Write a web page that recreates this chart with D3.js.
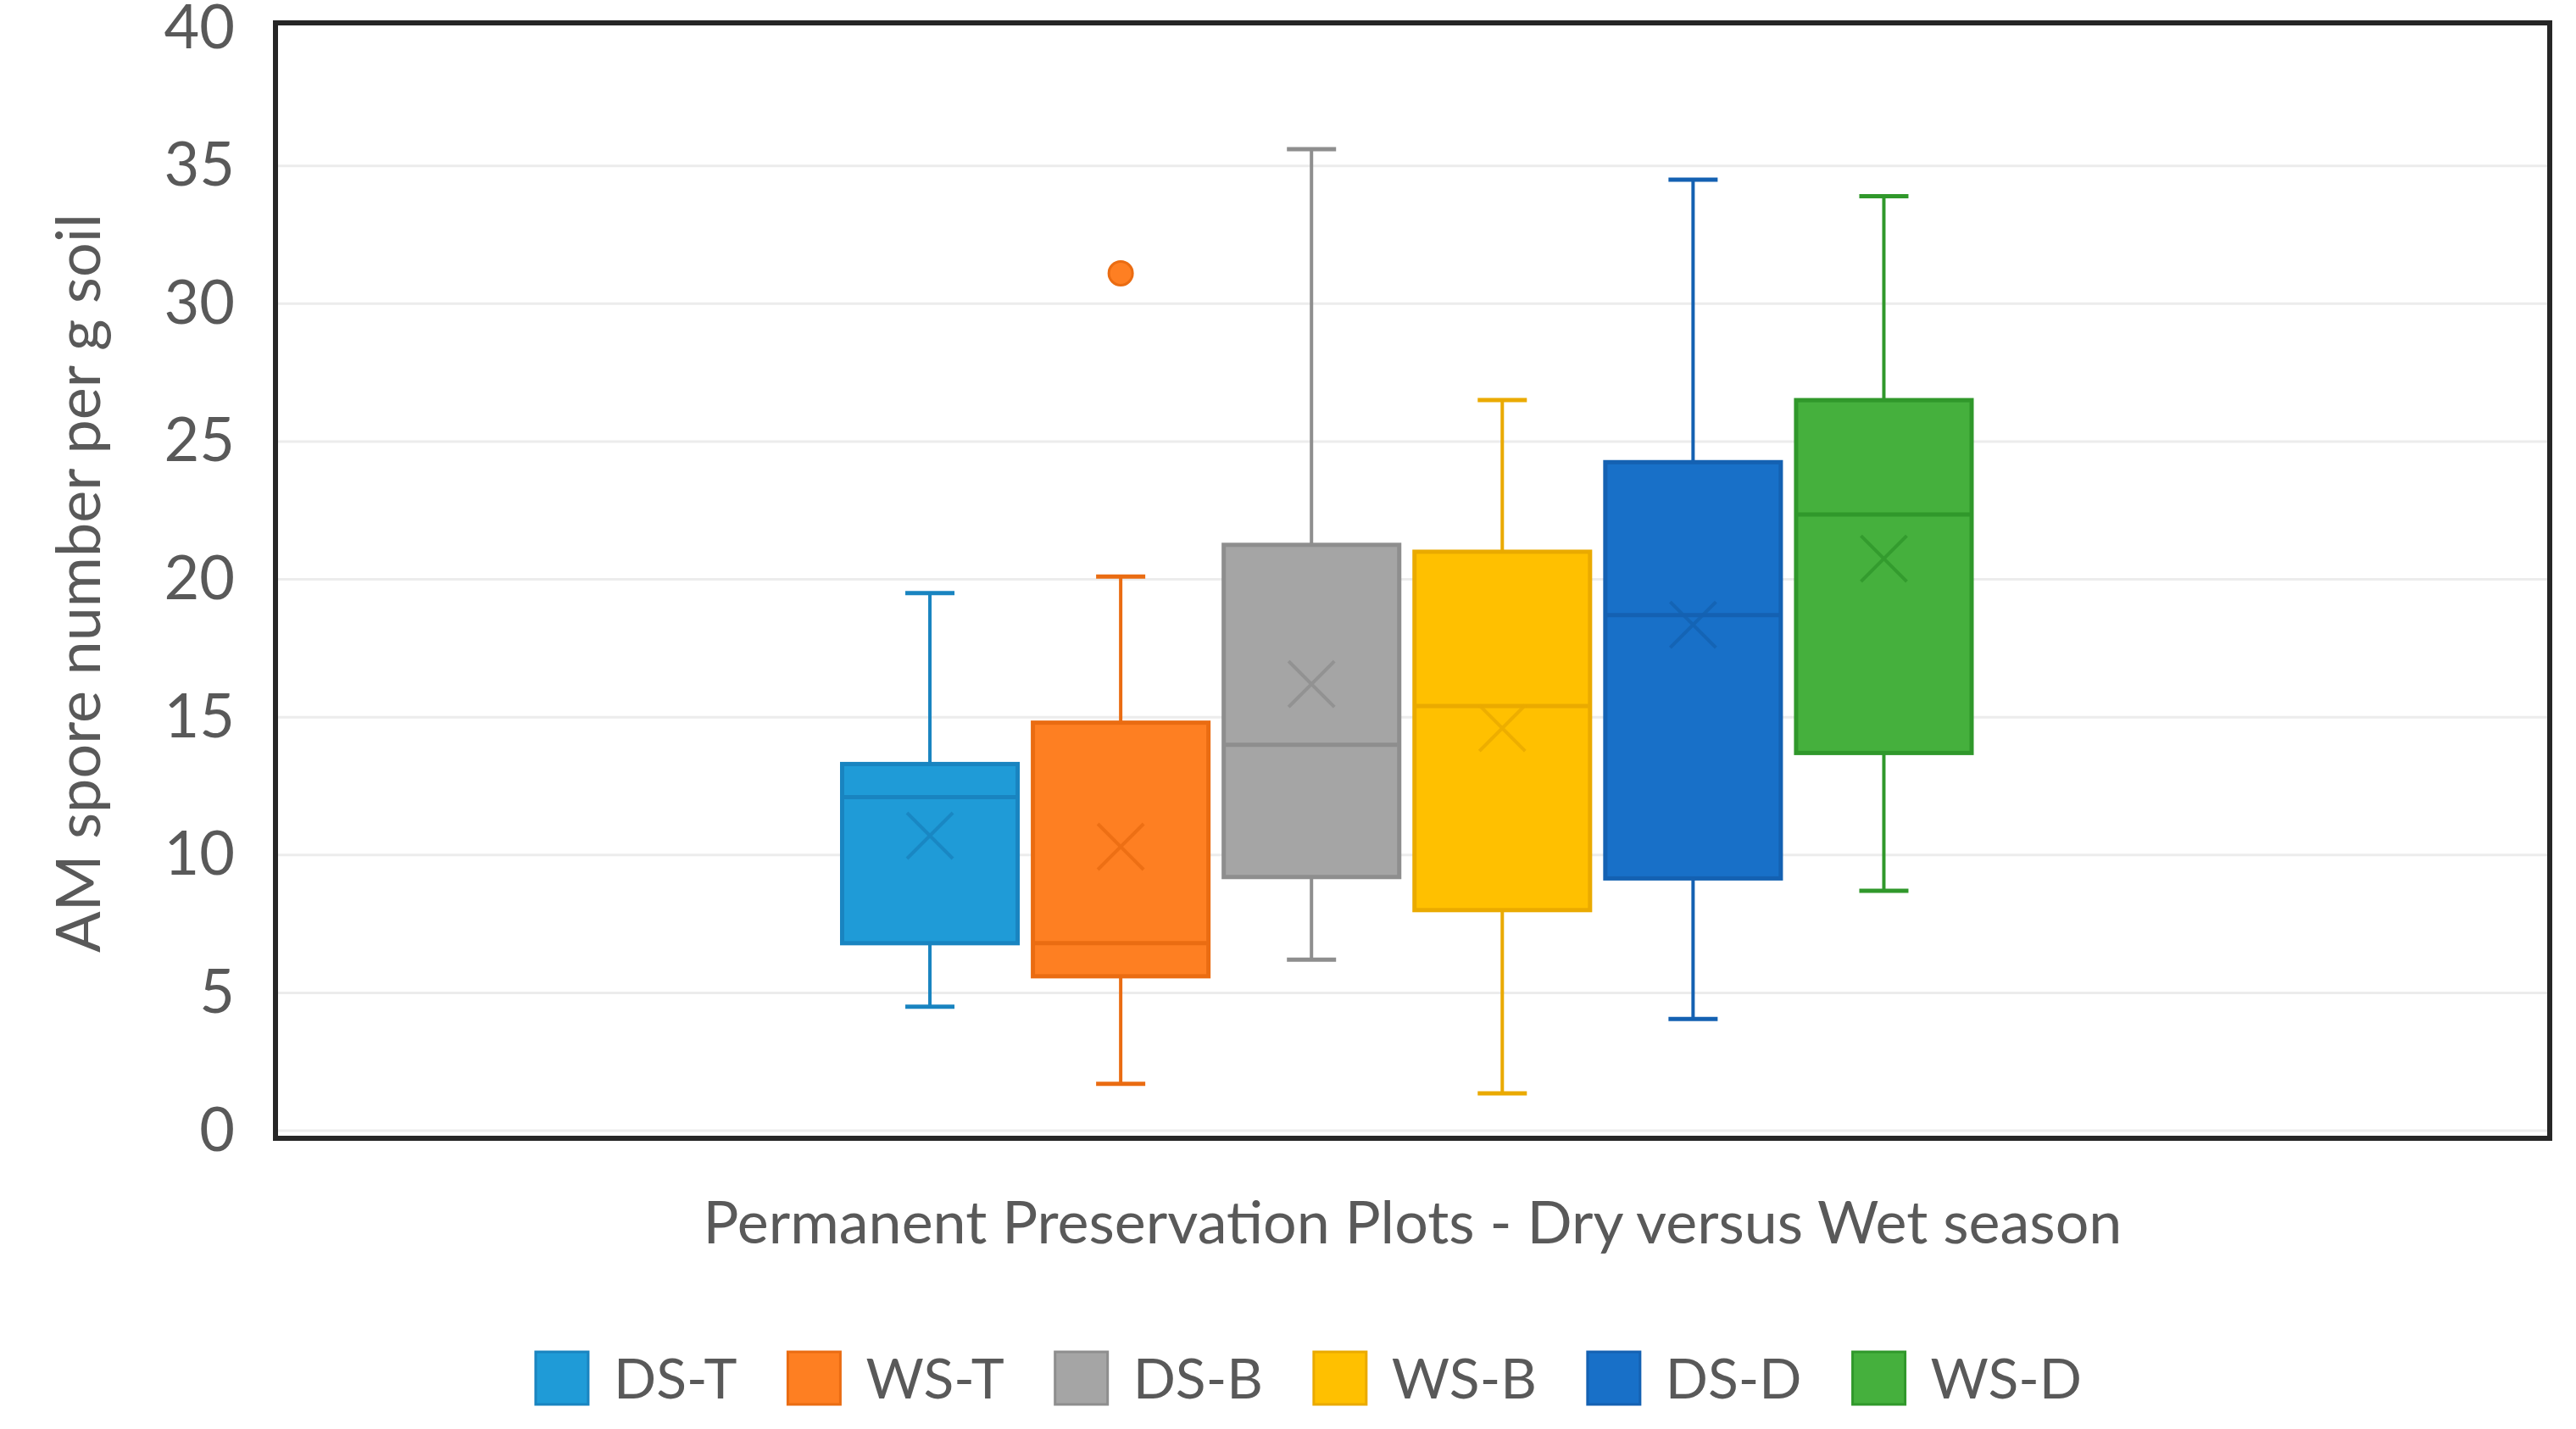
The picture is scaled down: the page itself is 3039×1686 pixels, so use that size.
<!DOCTYPE html>
<html>
<head>
<meta charset="utf-8">
<script src="https://cdn.jsdelivr.net/npm/d3@7"></script>
<style>
  html, body { margin: 0; padding: 0; background: #fff; }
  svg { display: block; font-family: Lato, "Open Sans", sans-serif; }
</style>
</head>
<body>
<div id="chart"></div>
<script>
// box plot values
var categories = ["DS-T", "WS-T", "DS-B", "WS-B", "DS-D", "WS-D"];
var whiskerLow  = [4.5, 1.7, 6.2, 1.35, 4.05, 8.7];
var q1          = [6.8, 5.6, 9.2, 8.0, 9.15, 13.7];
var median      = [12.1, 6.8, 14.0, 15.4, 18.7, 22.35];
var q3          = [13.3, 14.8, 21.25, 21.0, 24.25, 26.5];
var whiskerHigh = [19.5, 20.1, 35.6, 26.5, 34.5, 33.9];
var means       = [10.7, 10.3, 16.2, 14.6, 18.35, 20.75];
var outliers    = [[], [31.1], [], [], [], []];
var yTicks      = [0, 5, 10, 15, 20, 25, 30, 35, 40];

var fills   = ["#1f9bd7", "#fe7f22", "#a5a5a5", "#ffc000", "#1870c8", "#45b03d"];
var strokes = ["#1984c0", "#ea6c12", "#8e8e8e", "#eaaa00", "#1461b2", "#30982b"];

(function () {
    var width = 3039,
        height = 1686,
        plotLeft = 325,
        plotRight = 3008,
        plotTop = 33,
        plotBottom = 1334;

    var svg = d3.select("#chart").append("svg")
        .attr("width", width)
        .attr("height", height);

    var x = d3.scaleBand()
        .domain(categories)
        .range([plotLeft, plotRight])
        .paddingInner(0.08)
        .paddingOuter(3.0)
        .align(0.495);

    var y = d3.scaleLinear()
        .domain([0, 40])
        .range([plotBottom, plotTop]);

    // gridlines
    svg.append("g")
        .selectAll("line")
        .data(yTicks.slice(0, -1))
        .enter().append("line")
        .attr("x1", plotLeft)
        .attr("x2", plotRight)
        .attr("y1", function (d) { return y(d); })
        .attr("y2", function (d) { return y(d); })
        .attr("stroke", "#ececec")
        .attr("stroke-width", 3);

    // y axis labels
    var yAxis = svg.append("g")
        .attr("transform", "translate(" + plotLeft + ",0)")
        .call(d3.axisLeft(y).tickValues(yTicks).tickSize(0).tickPadding(48));
    yAxis.select(".domain").remove();
    yAxis.selectAll("text")
        .attr("font-family", "Lato, 'Open Sans', sans-serif")
        .attr("font-size", 72)
        .attr("fill", "#595959");

    var boxes = svg.append("g")
        .selectAll("g.box")
        .data(categories)
        .enter().append("g")
        .attr("class", "box");

    function cx(d) { return x(d) + x.bandwidth() / 2; }
    var capHalf = 29;

    // whiskers
    boxes.append("line")
        .attr("x1", cx).attr("x2", cx)
        .attr("y1", function (d, i) { return y(whiskerHigh[i]); })
        .attr("y2", function (d, i) { return y(q3[i]); })
        .attr("stroke", function (d, i) { return strokes[i]; })
        .attr("stroke-width", 4);
    boxes.append("line")
        .attr("x1", cx).attr("x2", cx)
        .attr("y1", function (d, i) { return y(q1[i]); })
        .attr("y2", function (d, i) { return y(whiskerLow[i]); })
        .attr("stroke", function (d, i) { return strokes[i]; })
        .attr("stroke-width", 4);

    // caps
    [whiskerHigh, whiskerLow].forEach(function (arr) {
        boxes.append("line")
            .attr("x1", function (d) { return cx(d) - capHalf; })
            .attr("x2", function (d) { return cx(d) + capHalf; })
            .attr("y1", function (d, i) { return y(arr[i]); })
            .attr("y2", function (d, i) { return y(arr[i]); })
            .attr("stroke", function (d, i) { return strokes[i]; })
            .attr("stroke-width", 5);
    });

    // boxes
    boxes.append("rect")
        .attr("x", function (d) { return x(d); })
        .attr("width", x.bandwidth())
        .attr("y", function (d, i) { return y(q3[i]); })
        .attr("height", function (d, i) { return y(q1[i]) - y(q3[i]); })
        .attr("fill", function (d, i) { return fills[i]; })
        .attr("stroke", function (d, i) { return strokes[i]; })
        .attr("stroke-width", 5);

    // median
    boxes.append("line")
        .attr("x1", function (d) { return x(d) + 2; })
        .attr("x2", function (d) { return x(d) + x.bandwidth() - 2; })
        .attr("y1", function (d, i) { return y(median[i]); })
        .attr("y2", function (d, i) { return y(median[i]); })
        .attr("stroke", function (d, i) { return strokes[i]; })
        .attr("stroke-width", 5);

    // mean markers
    var xs = 27;
    boxes.append("path")
        .attr("d", function (d, i) {
            var px = cx(d), py = y(means[i]);
            return "M" + (px - xs) + "," + (py - xs) + "L" + (px + xs) + "," + (py + xs) +
                   "M" + (px - xs) + "," + (py + xs) + "L" + (px + xs) + "," + (py - xs);
        })
        .attr("stroke", function (d, i) { return strokes[i]; })
        .attr("stroke-opacity", 0.85)
        .attr("stroke-width", 4)
        .attr("fill", "none");

    // outliers
    boxes.each(function (d, i) {
        d3.select(this).selectAll("circle")
            .data(outliers[i])
            .enter().append("circle")
            .attr("cx", cx(d))
            .attr("cy", function (v) { return y(v); })
            .attr("r", 14)
            .attr("fill", fills[i])
            .attr("stroke", strokes[i])
            .attr("stroke-width", 3);
    });

    // plot frame, sits a little outside the 0-40 range
    svg.append("rect")
        .attr("x", plotLeft)
        .attr("y", plotTop - 6)
        .attr("width", plotRight - plotLeft)
        .attr("height", plotBottom - plotTop + 15)
        .attr("fill", "none")
        .attr("stroke", "#262626")
        .attr("stroke-width", 6);

    // axis titles
    svg.append("text")
        .attr("x", (plotLeft + plotRight) / 2)
        .attr("y", 1467)
        .attr("text-anchor", "middle")
        .attr("font-size", 70)
        .attr("fill", "#595959")
        .text("Permanent Preservation Plots - Dry versus Wet season");

    svg.append("text")
        .attr("transform", "translate(118,688) rotate(-90)")
        .attr("text-anchor", "middle")
        .attr("font-size", 72)
        .attr("fill", "#595959")
        .text("AM spore number per g soil");

    // legend
    var legend = svg.append("g");
    var sq = 62, gapText = 30, gapItem = 60, offset = 0;
    categories.forEach(function (c, i) {
        var item = legend.append("g").attr("transform", "translate(" + offset + ",0)");
        item.append("rect")
            .attr("x", 0).attr("y", -sq / 2)
            .attr("width", sq).attr("height", sq)
            .attr("fill", fills[i])
            .attr("stroke", strokes[i])
            .attr("stroke-width", 3);
        var t = item.append("text")
            .attr("x", sq + gapText)
            .attr("y", 0)
            .attr("dy", "0.36em")
            .attr("font-size", 66)
            .attr("fill", "#595959")
            .text(c);
        offset += sq + gapText + t.node().getComputedTextLength() + gapItem;
    });
    offset -= gapItem;
    legend.attr("transform", "translate(" + (1544 - offset / 2) + ",1626)");
})();
</script>
</body>
</html>
